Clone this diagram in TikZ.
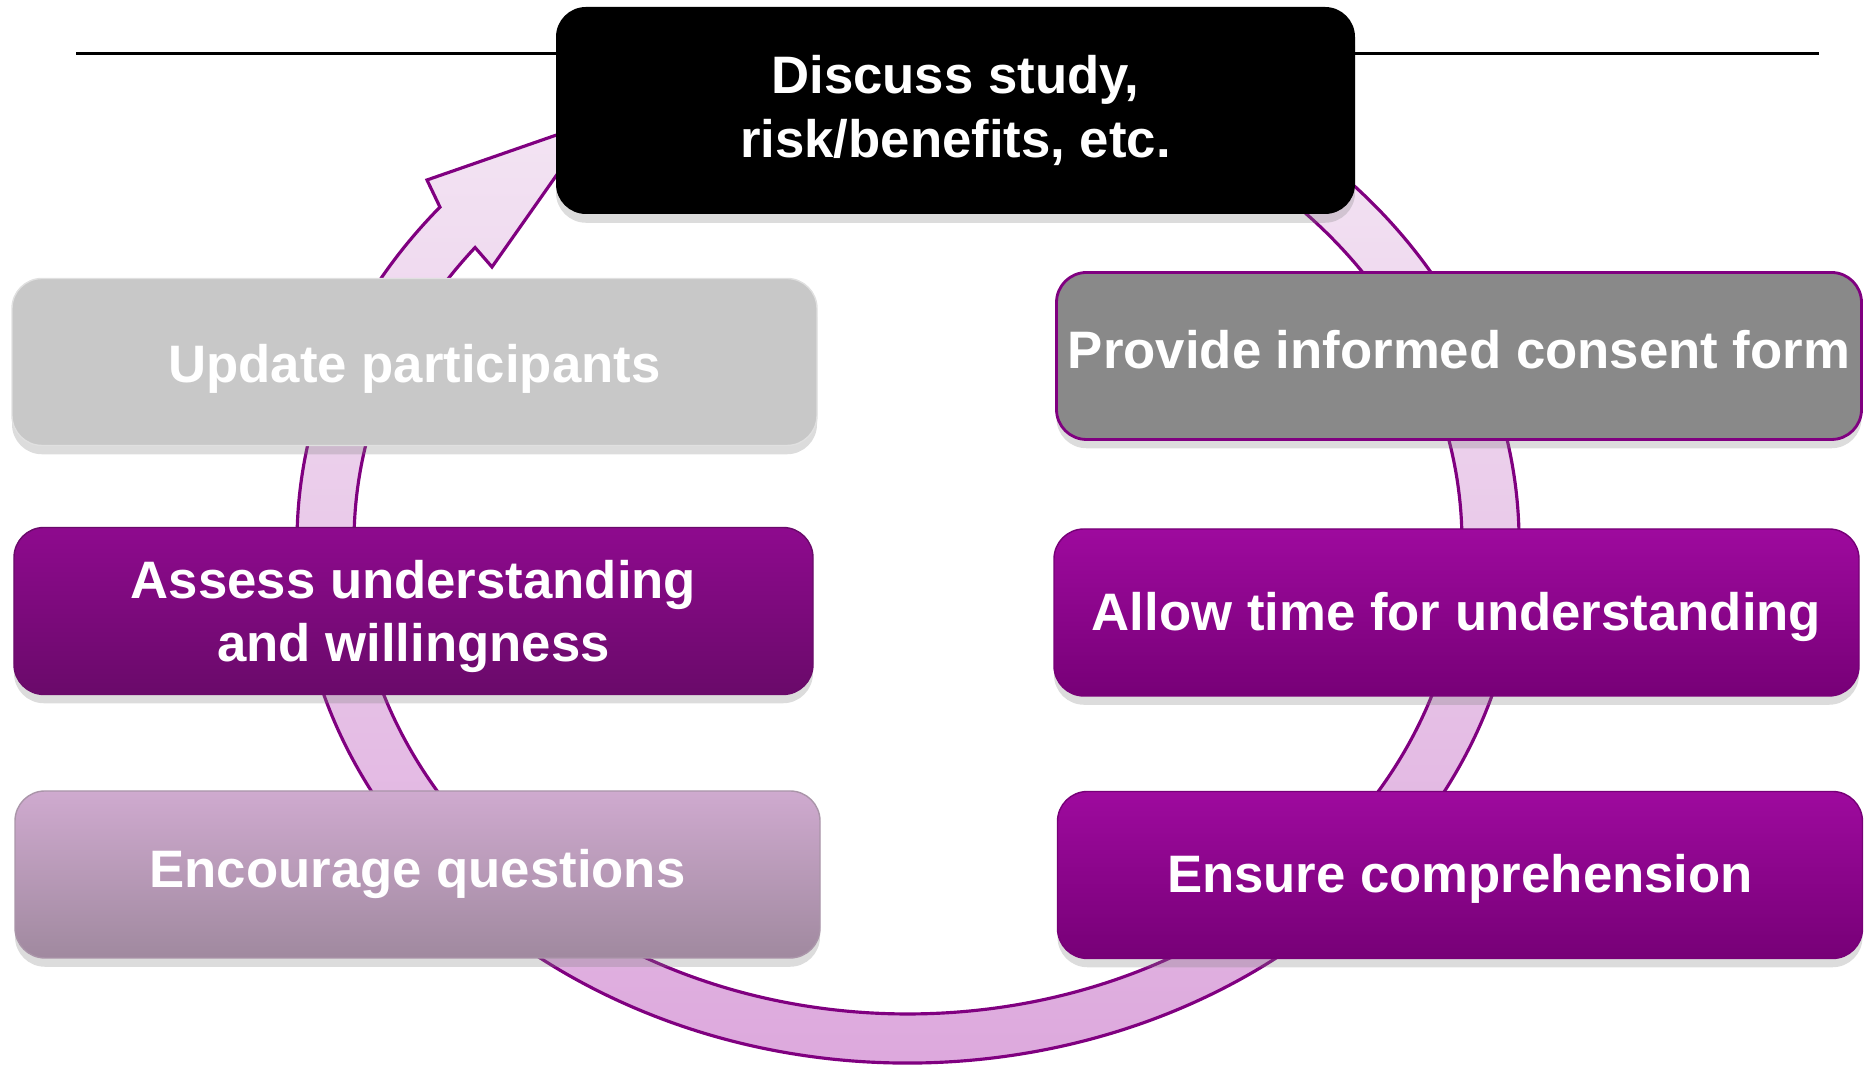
\documentclass[tikz,border=0pt]{standalone}
\usepackage{fontspec}
\setmainfont{Liberation Sans}
\usetikzlibrary{shadows}

\definecolor{ringline}{HTML}{800080}
\definecolor{ringtop}{HTML}{F4E6F4}
\definecolor{ringbot}{HTML}{DBA4DB}
\definecolor{plumtop}{HTML}{9E0A9E}
\definecolor{plumbot}{HTML}{770077}
\definecolor{darkplumtop}{HTML}{8E0A8E}
\definecolor{darkplumbot}{HTML}{6A0A6A}
\definecolor{mauvetop}{HTML}{CFAACF}
\definecolor{mauvebot}{HTML}{A0899F}

% shift a label up or down without changing the box it sits in
\newcommand{\nudge}[2]{\raisebox{#1}[\height][\depth]{#2}}

\begin{document}
\begin{tikzpicture}[
        stepbox/.style={rounded corners=0.3cm, minimum width=8.05cm, minimum height=1.67cm,
            inner sep=2pt, align=center, text=white,
            font=\bfseries\fontsize{15}{18}\selectfont,
            drop shadow={shadow xshift=0pt, shadow yshift=-2.5pt, opacity=0.28}},
        ring/.style={draw=ringline, line width=0.9pt, top color=ringtop, bottom color=ringbot}
    ]
        \useasboundingbox (0,0) rectangle (18.64,10.66);

        % rule across the top
        \coordinate (rulel) at (0.76,10.125);
        \coordinate (ruler) at (18.19,10.125);
        \draw[line width=0.8pt] (rulel) -- (ruler);

        % the cycle arrow
        \begin{scope}[shift={(9.08,5.24)}]
            \path[ring] (60:6.11 and 5.21)
                arc[start angle=60, end angle=-220, x radius=6.11, y radius=5.21]
                -- (-4.81,3.62) -- (-3.14,4.20) -- (-4.16,2.75)
                -- (-218.6:5.54 and 4.72)
                arc[start angle=-218.6, end angle=60, x radius=5.54, y radius=4.72]
                -- cycle;
        \end{scope}

        % steps
        \node[stepbox, fill=black, minimum width=7.99cm, minimum height=2.07cm] (disc) at (9.555,9.555)
            {Discuss study,\\risk/benefits, etc.};
        \node[stepbox, fill={rgb,255:red,200;green,200;blue,200}, draw=black!12] (upd) at (4.145,7.04)
            {\nudge{-2pt}{Update participants}};
        \node[stepbox, fill={rgb,255:red,137;green,137;blue,137}, draw=ringline, line width=0.8pt] (prov) at (14.59,7.10)
            {\nudge{1.7pt}{Provide informed consent form}};
        \node[stepbox, top color=darkplumtop, bottom color=darkplumbot, draw=darkplumbot,
            minimum width=7.99cm, text depth=0pt] (asses) at (4.135,4.55)
            {Assess understanding\\and willingness};
        \node[stepbox, top color=plumtop, bottom color=plumbot, draw=plumbot] (allow) at (14.565,4.535)
            {\nudge{-1.4pt}{Allow time for understanding}};
        \node[stepbox, top color=mauvetop, bottom color=mauvebot, draw=mauvebot!90] (enc) at (4.175,1.915)
            {Encourage questions};
        \node[stepbox, top color=plumtop, bottom color=plumbot, draw=plumbot] (ens) at (14.60,1.91)
            {\nudge{-1pt}{Ensure comprehension}};
\end{tikzpicture}
\end{document}
